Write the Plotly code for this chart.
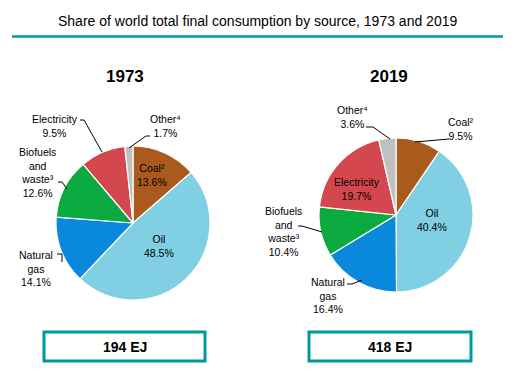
import plotly.graph_objects as go

W, H = 517, 375

sources = ["Coal²", "Oil", "Natural gas", "Biofuels and waste³", "Electricity", "Other⁴"]
share_1973 = [13.6, 48.5, 14.1, 12.6, 9.5, 1.7]
share_2019 = [9.5, 40.4, 16.4, 10.4, 19.7, 3.6]
colors = ["#AA5A1C", "#80CFE2", "#0A88DC", "#0BAA40", "#D4474E", "#C0C0C0"]
years = ["1973", "2019"]
totals = ["194 EJ", "418 EJ"]

FONT = "Liberation Sans Narrow, Arial Narrow, Liberation Sans, Arial, sans-serif"
TEAL = "#00999B"
LS = 10.5  # label font size


def px(x):
    return x / W


def py(y):
    return 1 - y / H


fig = go.Figure()
domains = [
    dict(x=[px(56), px(210)], y=[py(300), py(146)]),
    dict(x=[px(319), px(473)], y=[py(292), py(138)]),
]
for vals, dom, yr in zip([share_1973, share_2019], domains, years):
    fig.add_trace(go.Pie(
        labels=sources, values=vals, sort=False, direction="clockwise",
        rotation=0, textinfo="none", hoverinfo="label+percent",
        marker=dict(colors=colors, line=dict(color="white", width=1.2)),
        domain=dom, showlegend=False, name=yr,
    ))

annotations = []
shapes = []


def label(text, x, y, size=LS):
    annotations.append(dict(
        text=text, x=px(x), y=py(y), xref="paper", yref="paper",
        showarrow=False, xanchor="center", yanchor="middle",
        font=dict(family=FONT, size=size, color="black"), align="center",
    ))


def leader(points):
    path = "M " + " L ".join(f"{px(a)},{py(b)}" for a, b in points)
    shapes.append(dict(type="path", path=path, xref="paper", yref="paper",
                       line=dict(color="black", width=1)))


# title
annotations.append(dict(
    text="Share of world total final consumption by source, 1973 and 2019",
    x=px(257), y=py(21), xref="paper", yref="paper", showarrow=False,
    xanchor="center", yanchor="middle",
    font=dict(family=FONT, size=14, color="black")))
shapes.append(dict(type="line", x0=px(12), x1=px(503), y0=py(36.5), y1=py(36.5),
                   xref="paper", yref="paper", line=dict(color=TEAL, width=2.5)))

# year headings
for yr, xc in zip(years, [125, 389]):
    annotations.append(dict(
        text=f"<b>{yr}</b>", x=px(xc), y=py(76), xref="paper", yref="paper",
        showarrow=False, xanchor="center", yanchor="middle",
        font=dict(family=FONT, size=17, color="black")))

# totals boxes
for tot, (x0, x1) in zip(totals, [(44, 205), (309, 471)]):
    shapes.append(dict(type="rect", x0=px(x0), x1=px(x1), y0=py(361), y1=py(332),
                       xref="paper", yref="paper", line=dict(color=TEAL, width=3)))
    annotations.append(dict(
        text=f"<b>{tot}</b>", x=px((x0 + x1) / 2), y=py(346.5), xref="paper",
        yref="paper", showarrow=False, xanchor="center", yanchor="middle",
        font=dict(family=FONT, size=14, color="black")))

# 1973 labels
label(f"Electricity<br>{share_1973[4]}%", 55, 126)
leader([(80, 120), (84, 120), (102, 152)])
label(f"Other⁴<br>{share_1973[5]}%", 165, 126)
leader([(150, 136), (146, 136), (129, 148)])
label(f"Biofuels<br>and<br>waste³<br>{share_1973[3]}%", 37, 172)
leader([(58, 182), (62, 182), (67, 189)])
label(f"Coal²<br>{share_1973[0]}%", 152, 175)
label(f"Oil<br>{share_1973[1]}%", 159, 246)
label(f"Natural<br>gas<br>{share_1973[2]}%", 36, 268)
leader([(57, 254), (62, 254), (62, 262)])

# 2019 labels
label(f"Other⁴<br>{share_2019[5]}%", 352, 117)
leader([(366, 127), (373, 127), (390, 139)])
label(f"Coal²<br>{share_2019[0]}%", 461, 129)
leader([(449, 139), (415, 142)])
label(f"Electricity<br>{share_2019[4]}%", 357, 189)
label(f"Oil<br>{share_2019[1]}%", 432, 220)
label(f"Biofuels<br>and<br>waste³<br>{share_2019[3]}%", 283, 231)
leader([(298, 226), (302, 226), (322, 232)])
label(f"Natural<br>gas<br>{share_2019[2]}%", 328, 295)
leader([(347, 284), (352, 284), (362, 280)])

fig.update_layout(
    width=W, height=H, margin=dict(l=0, r=0, t=0, b=0),
    paper_bgcolor="white", plot_bgcolor="white",
    annotations=annotations, shapes=shapes,
    font=dict(family=FONT),
)

fig.write_html(
    "out.html",
    config={"displayModeBar": False},
    post_script="document.body.style.margin='0';document.body.style.overflow='hidden';",
)
